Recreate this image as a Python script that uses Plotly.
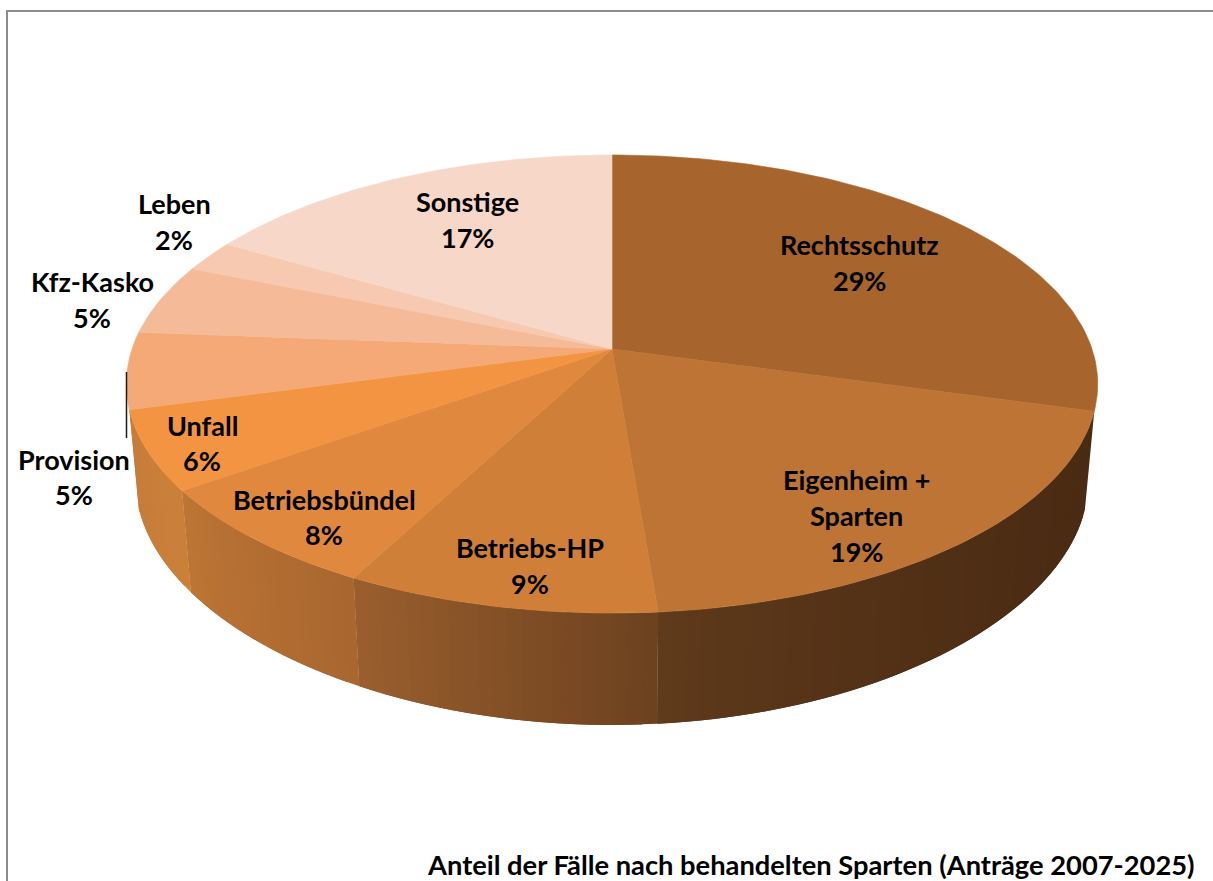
import numpy as np
import plotly.graph_objects as go

# ---- data
categories = ["Rechtsschutz", "Eigenheim +<br>Sparten", "Betriebs-HP", "Betriebsbündel",
              "Unfall", "Provision", "Kfz-Kasko", "Leben", "Sonstige"]
shares = [29.3, 19.4, 9.0, 7.5, 5.6, 5.4, 5.0, 2.2, 16.6]
share_labels = ["29%", "19%", "9%", "8%", "6%", "5%", "5%", "2%", "17%"]
title_text = "Anteil der Fälle nach behandelten Sparten (Anträge 2007-2025)"

# ---- styles
top_colors = ["#a7642c", "#bd7434", "#d07f39", "#e1883f", "#f39443",
              "#f4a977", "#f5bb98", "#f6c9b0", "#f7d7c8"]
side_colors = {1: ("#4a2b13", "#5f3a1b", 2.0), 2: ("#6c411f", "#9b5f2e", 1.0),
               3: ("#a8662f", "#be7535", 1.0), 4: ("#cb803a", "#c67c3a", 1.0)}
label_centers = [(859, 244, 36), (856, 479, 36), (530, 547, 36), (324, 499, 35.5),
                 (202, 425, 35), (74, 459, 35), (92, 281, 36), (174, 203, 36), (467, 201, 36)]
FONT = "Lato"
FONT_SIZE = 27
TITLE_SIZE = 27.3

# ---- projection of the tilted disc (pixel canvas, perspective)
CX, CY, A, B, K = 612.0, 349.0, 480.0, 223.7, 0.153
LOW_CY, LOW_A, LOW_B, LOW_KX, LOW_KY = 447.5, 471.0, 222.0, 0.15, 0.2


def project(theta, lower=False):
    u, v = np.sin(theta), np.cos(theta)
    if lower:
        return CX + LOW_A * u / (1 + LOW_KX * v), LOW_CY - LOW_B * v / (1 + LOW_KY * v)
    w = 1 + K * v
    return CX + A * u / w, CY - B * v / w


def hex_rgb(h):
    return np.array([int(h[i:i + 2], 16) for i in (1, 3, 5)], float)


edges = np.radians(np.cumsum([0] + shares) * 3.6)
fig = go.Figure()


def poly(x, y, color):
    fig.add_trace(go.Scatter(x=list(x), y=list(y), mode="lines", fill="toself", fillcolor=color,
                             line=dict(color=color, width=0), hoverinfo="skip", showlegend=False))


# side wall: each strip runs under the next one so no seams show
for idx, (c0, c1, power) in side_colors.items():
    t0, t1 = edges[idx], edges[idx + 1]
    n = max(6, int(np.degrees(t1 - t0) / 1.5))
    ts = np.linspace(t0, t1, n + 1)
    a, b = hex_rgb(c0), hex_rgb(c1)
    for j in range(n):
        f = ((j + 0.5) / n) ** power
        col = a + (b - a) * f
        seg = np.linspace(ts[j], ts[min(j + 2, n)], 3)
        tx, ty = project(seg)
        bx, by = project(seg[::-1], lower=True)
        poly(np.r_[tx, bx, tx[0]], np.r_[ty, by, ty[0]],
             "rgb(%d,%d,%d)" % tuple(col.round()))

# top face
for i, col in enumerate(top_colors):
    ts = np.linspace(edges[i], edges[i + 1], max(8, int(np.degrees(edges[i + 1] - edges[i]))))
    ax, ay = project(ts)
    fig.add_trace(go.Scatter(x=list(np.r_[CX, ax, CX]), y=list(np.r_[CY, ay, CY]), mode="lines",
                             fill="toself", fillcolor=col, line=dict(color=col, width=0.6),
                             hoverinfo="skip", showlegend=False))

# frame and leader line
fig.add_shape(type="line", x0=7, x1=7, y0=11, y1=881, line=dict(color="#8c8c8c", width=2))
fig.add_shape(type="line", x0=6, x1=1213, y0=11, y1=11, line=dict(color="#8c8c8c", width=2))
fig.add_shape(type="line", x0=126.5, x1=126.5, y0=372, y1=438, line=dict(color="#1a1a1a", width=1.5))

# labels
for name, pct, (lx, ly, step) in zip(categories, share_labels, label_centers):
    lines = name.split("<br>") + [pct]
    for k, line in enumerate(lines):
        fig.add_annotation(x=lx, y=ly + k * step, text="<b>%s</b>" % line, showarrow=False,
                           xanchor="center", yanchor="middle",
                           font=dict(family=FONT, size=FONT_SIZE, color="#000000"))
fig.add_annotation(x=1197, y=864, text="<b>%s</b>" % title_text, showarrow=False,
                   xanchor="right", yanchor="middle",
                   font=dict(family=FONT, size=TITLE_SIZE, color="#000000"))

fig.update_layout(width=1213, height=881, margin=dict(l=0, r=0, t=0, b=0),
                  paper_bgcolor="white", plot_bgcolor="white", showlegend=False,
                  xaxis=dict(range=[0, 1213], visible=False, fixedrange=True),
                  yaxis=dict(range=[881, 0], visible=False, fixedrange=True))
fig.write_html("out.html", config={"displayModeBar": False},
               post_script="document.body.style.margin='0';document.body.style.overflow='hidden';")
